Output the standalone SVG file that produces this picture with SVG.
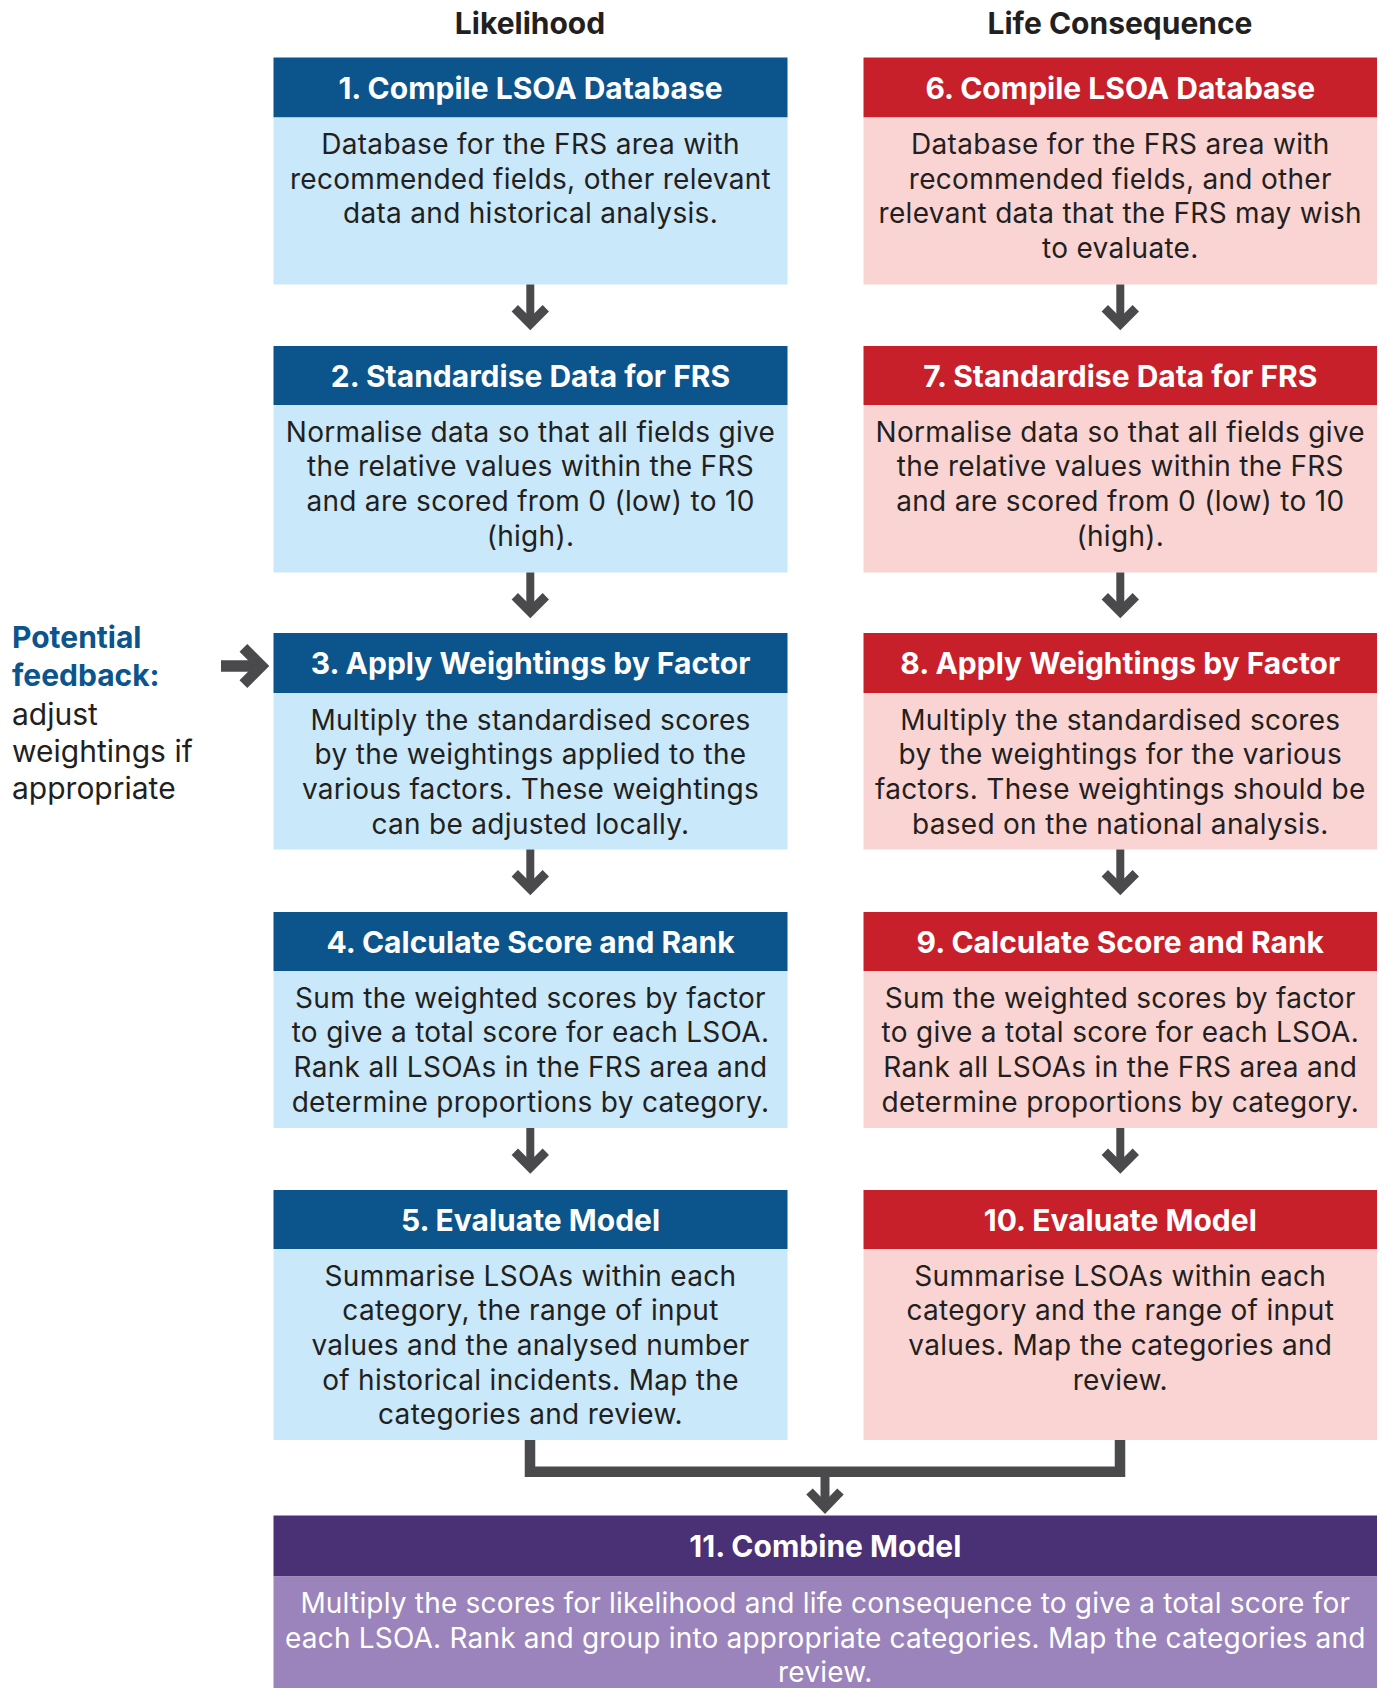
<svg xmlns="http://www.w3.org/2000/svg" width="1383" height="1688" viewBox="0 0 1383 1688">
<style>
.col{font-family:Inter,"Liberation Sans",sans-serif;font-weight:700;font-size:30px;fill:#231f20;text-anchor:middle}
.hd{font-family:Inter,"Liberation Sans",sans-serif;font-weight:700;font-size:30px;fill:#ffffff;text-anchor:middle}
.bd{font-family:Inter,"Liberation Sans",sans-serif;font-weight:400;font-size:28px;letter-spacing:0.3px;fill:#231f20;text-anchor:middle}
.bdw{font-family:Inter,"Liberation Sans",sans-serif;font-weight:400;font-size:28px;letter-spacing:0.2px;fill:#ffffff;text-anchor:middle}
.fbb{font-family:Inter,"Liberation Sans",sans-serif;font-weight:700;font-size:30px;fill:#0b548c}
.fb{font-family:Inter,"Liberation Sans",sans-serif;font-weight:400;font-size:30px;fill:#231f20}
.bh{fill:#0b548c}.bb{fill:#c9e8f9}
.rh{fill:#c8202a}.rb{fill:#f9d4d3}
.ph{fill:#4a3074}.pb{fill:#9b84bb}
.shaft{stroke:#4a4a4c;stroke-width:8;fill:none}
.head{stroke:#4a4a4c;stroke-width:9;fill:none;stroke-linejoin:miter;stroke-linecap:butt}
</style>
<defs>
<g id="dn"><line class="shaft" x1="0" y1="0" x2="0" y2="36"/><polyline class="head" points="-15.5,23.8 0,39.3 15.5,23.8"/></g>
</defs>
<text class="col" x="530" y="34">Likelihood</text>
<text class="col" x="1120" y="34">Life Consequence</text>

<g id="feedback">
<text class="fbb" x="12" y="648">Potential</text>
<text class="fbb" x="12" y="686">feedback:</text>
<text class="fb" x="12" y="725">adjust</text>
<text class="fb" x="12" y="762">weightings if</text>
<text class="fb" x="12" y="799">appropriate</text>
</g>

<g id="n1">
<rect class="bh" x="273.5" y="57.5" width="514" height="60"/>
<rect class="bb" x="273.5" y="117.5" width="514" height="167"/>
<text class="hd" x="530.5" y="98.5">1. Compile LSOA Database</text>
<text class="bd" x="530.5" y="154">Database for the FRS area with</text>
<text class="bd" x="530.5" y="188.7">recommended fields, other relevant</text>
<text class="bd" x="530.5" y="223.4">data and historical analysis.</text>
</g>
<g id="n2">
<rect class="bh" x="273.5" y="346" width="514" height="59"/>
<rect class="bb" x="273.5" y="405" width="514" height="167.5"/>
<text class="hd" x="530.5" y="387">2. Standardise Data for FRS</text>
<text class="bd" x="530.5" y="441.5">Normalise data so that all fields give</text>
<text class="bd" x="530.5" y="476.2">the relative values within the FRS</text>
<text class="bd" x="530.5" y="510.9">and are scored from 0 (low) to 10</text>
<text class="bd" x="530.5" y="545.6">(high).</text>
</g>
<g id="n3">
<rect class="bh" x="273.5" y="633" width="514" height="60"/>
<rect class="bb" x="273.5" y="693" width="514" height="156.5"/>
<text class="hd" x="530.5" y="674">3. Apply Weightings by Factor</text>
<text class="bd" x="530.5" y="729.5">Multiply the standardised scores</text>
<text class="bd" x="530.5" y="764.2">by the weightings applied to the</text>
<text class="bd" x="530.5" y="798.9">various factors. These weightings</text>
<text class="bd" x="530.5" y="833.6">can be adjusted locally.</text>
</g>
<g id="n4">
<rect class="bh" x="273.5" y="912" width="514" height="59"/>
<rect class="bb" x="273.5" y="971" width="514" height="157"/>
<text class="hd" x="530.5" y="953">4. Calculate Score and Rank</text>
<text class="bd" x="530.5" y="1007.5">Sum the weighted scores by factor</text>
<text class="bd" x="530.5" y="1042.2">to give a total score for each LSOA.</text>
<text class="bd" x="530.5" y="1076.9">Rank all LSOAs in the FRS area and</text>
<text class="bd" x="530.5" y="1111.6">determine proportions by category.</text>
</g>
<g id="n5">
<rect class="bh" x="273.5" y="1190" width="514" height="59"/>
<rect class="bb" x="273.5" y="1249" width="514" height="191"/>
<text class="hd" x="530.5" y="1231">5. Evaluate Model</text>
<text class="bd" x="530.5" y="1285.5">Summarise LSOAs within each</text>
<text class="bd" x="530.5" y="1320.2">category, the range of input</text>
<text class="bd" x="530.5" y="1354.9">values and the analysed number</text>
<text class="bd" x="530.5" y="1389.6">of historical incidents. Map the</text>
<text class="bd" x="530.5" y="1424.3">categories and review.</text>
</g>

<g id="n6">
<rect class="rh" x="863.5" y="57.5" width="513.5" height="60"/>
<rect class="rb" x="863.5" y="117.5" width="513.5" height="167"/>
<text class="hd" x="1120.3" y="98.5">6. Compile LSOA Database</text>
<text class="bd" x="1120.3" y="154">Database for the FRS area with</text>
<text class="bd" x="1120.3" y="188.7">recommended fields, and other</text>
<text class="bd" x="1120.3" y="223.4">relevant data that the FRS may wish</text>
<text class="bd" x="1120.3" y="258.1">to evaluate.</text>
</g>
<g id="n7">
<rect class="rh" x="863.5" y="346" width="513.5" height="59"/>
<rect class="rb" x="863.5" y="405" width="513.5" height="167.5"/>
<text class="hd" x="1120.3" y="387">7. Standardise Data for FRS</text>
<text class="bd" x="1120.3" y="441.5">Normalise data so that all fields give</text>
<text class="bd" x="1120.3" y="476.2">the relative values within the FRS</text>
<text class="bd" x="1120.3" y="510.9">and are scored from 0 (low) to 10</text>
<text class="bd" x="1120.3" y="545.6">(high).</text>
</g>
<g id="n8">
<rect class="rh" x="863.5" y="633" width="513.5" height="60"/>
<rect class="rb" x="863.5" y="693" width="513.5" height="156.5"/>
<text class="hd" x="1120.3" y="674">8. Apply Weightings by Factor</text>
<text class="bd" x="1120.3" y="729.5">Multiply the standardised scores</text>
<text class="bd" x="1120.3" y="764.2">by the weightings for the various</text>
<text class="bd" x="1120.3" y="798.9">factors. These weightings should be</text>
<text class="bd" x="1120.3" y="833.6">based on the national analysis.</text>
</g>
<g id="n9">
<rect class="rh" x="863.5" y="912" width="513.5" height="59"/>
<rect class="rb" x="863.5" y="971" width="513.5" height="157"/>
<text class="hd" x="1120.3" y="953">9. Calculate Score and Rank</text>
<text class="bd" x="1120.3" y="1007.5">Sum the weighted scores by factor</text>
<text class="bd" x="1120.3" y="1042.2">to give a total score for each LSOA.</text>
<text class="bd" x="1120.3" y="1076.9">Rank all LSOAs in the FRS area and</text>
<text class="bd" x="1120.3" y="1111.6">determine proportions by category.</text>
</g>
<g id="n10">
<rect class="rh" x="863.5" y="1190" width="513.5" height="59"/>
<rect class="rb" x="863.5" y="1249" width="513.5" height="191"/>
<text class="hd" x="1120.3" y="1231">10. Evaluate Model</text>
<text class="bd" x="1120.3" y="1285.5">Summarise LSOAs within each</text>
<text class="bd" x="1120.3" y="1320.2">category and the range of input</text>
<text class="bd" x="1120.3" y="1354.9">values. Map the categories and</text>
<text class="bd" x="1120.3" y="1389.6">review.</text>
</g>
<g id="n11">
<rect class="ph" x="273.5" y="1515.5" width="1103.5" height="61"/>
<rect class="pb" x="273.5" y="1576.5" width="1103.5" height="111.5"/>
<text class="hd" x="825.3" y="1557">11. Combine Model</text>
<text class="bdw" x="825.3" y="1613">Multiply the scores for likelihood and life consequence to give a total score for</text>
<text class="bdw" x="825.3" y="1647.7">each LSOA. Rank and group into appropriate categories. Map the categories and</text>
<text class="bdw" x="825.3" y="1682.4">review.</text>
</g>

<g id="connectors">
<use href="#dn" x="530.3" y="284.5"/>
<use href="#dn" x="530.3" y="572.5"/>
<use href="#dn" x="530.3" y="849.5"/>
<use href="#dn" x="530.3" y="1128"/>
<use href="#dn" x="1120.3" y="284.5"/>
<use href="#dn" x="1120.3" y="572.5"/>
<use href="#dn" x="1120.3" y="849.5"/>
<use href="#dn" x="1120.3" y="1128"/>
<path d="M530 1440 V1471.8 H1120 V1440" stroke="#4a4a4c" stroke-width="10.5" fill="none" stroke-linejoin="miter"/>
<line class="shaft" x1="825" y1="1476" x2="825" y2="1505" style="stroke-width:9"/>
<polyline class="head" points="809.5,1491.5 825,1507.6 840.5,1491.5"/>
<line x1="221" y1="666" x2="258" y2="666" stroke="#4a4a4c" stroke-width="11.5"/>
<polyline points="243.4,647.9 261.5,666 243.4,684.1" stroke="#4a4a4c" stroke-width="11" fill="none" stroke-linejoin="miter"/>
</g>
</svg>
